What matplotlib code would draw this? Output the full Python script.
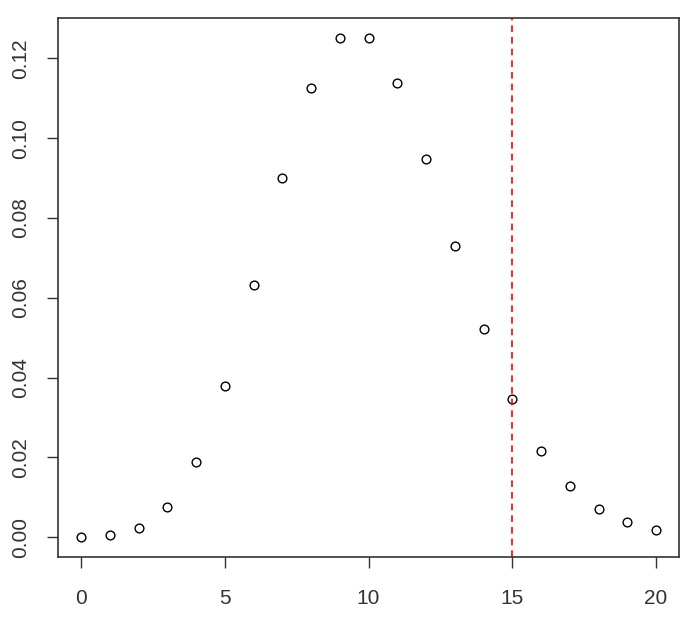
import matplotlib
matplotlib.use("Agg")
import matplotlib.pyplot as plt

x_vals = list(range(0, 21))
y_vals = [0.0000454, 0.000454, 0.00227, 0.00757, 0.0189, 0.0378, 0.0631,
          0.0901, 0.1126, 0.1251, 0.1251, 0.1137, 0.0948, 0.0729, 0.0521,
          0.0347, 0.0217, 0.0128, 0.0071, 0.0037, 0.0019]
vline_x = 15
x_ticks = [0, 5, 10, 15, 20]
y_ticks = [0.00, 0.02, 0.04, 0.06, 0.08, 0.10, 0.12]

plt.rcParams['font.family'] = ['Liberation Sans', 'DejaVu Sans']

fig = plt.figure(figsize=(6.96, 6.19), dpi=100)
ax = fig.add_axes([58/696, 1-557/619, (679-58)/696, (557-18)/619])

ax.plot(x_vals, y_vals, linestyle='none', marker='o', markersize=6.3,
        markerfacecolor='none', markeredgecolor='black', markeredgewidth=1.0)
ax.axvline(vline_x, color='red', linestyle=(0, (4, 3)), linewidth=1.2)

xr = max(x_vals) - min(x_vals)
ax.set_xlim(min(x_vals) - 0.04*xr, max(x_vals) + 0.04*xr)
yr = max(y_vals) - min(y_vals)
ax.set_ylim(min(y_vals) - 0.04*yr, max(y_vals) + 0.04*yr)

ax.set_xticks(x_ticks)
ax.set_xticklabels([str(t) for t in x_ticks])
ax.set_yticks(y_ticks)
ax.set_yticklabels([f"{t:.2f}" for t in y_ticks], rotation=90, va='center')

for s in ax.spines.values():
    s.set_color('#333333')
    s.set_linewidth(1.2)
ax.tick_params(axis='both', direction='out', length=8, width=1.0,
               color='#333333', labelsize=15, labelcolor='#333333')
ax.tick_params(axis='x', pad=15)
ax.tick_params(axis='y', pad=12)

fig.savefig("out.png", dpi=100)
